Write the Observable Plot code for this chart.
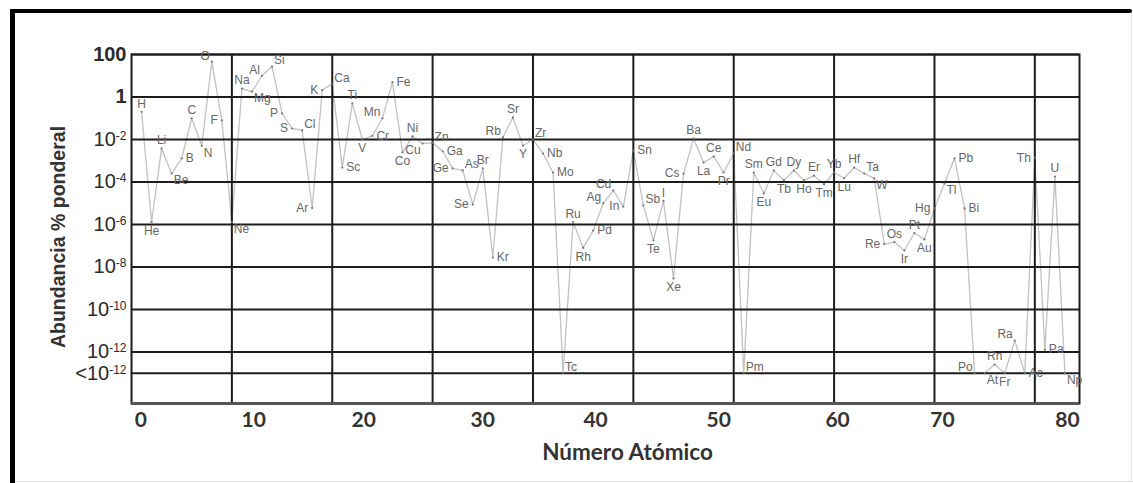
<!DOCTYPE html>
<html><head><meta charset="utf-8">
<script src="https://cdn.jsdelivr.net/npm/d3@7"></script>
<script src="https://cdn.jsdelivr.net/npm/@observablehq/plot@0.6"></script>
<style>
body{margin:0;background:#fff;}
#wrap{position:relative;width:1133px;height:483px;overflow:hidden;background:#fff;}
#chart{position:absolute;left:0;top:0;}
.bar{position:absolute;background:#000;}
</style></head><body>
<div id="wrap">
  <div id="chart"></div>
  <div class="bar" style="left:10px;top:9px;width:1122px;height:4px;border-radius:0 2px 2px 0"></div>
  <div class="bar" style="left:10px;top:9px;width:5px;height:474px"></div>
  <div style="position:absolute;left:15px;top:481px;width:1118px;height:1px;background:#e2e2e2"></div>
  <div style="position:absolute;left:1131px;top:13px;width:1px;height:468px;background:#e6e6e6"></div>
</div>
<script>
// ---- data ----
const symbols = ["H","He","Li","Be","B","C","N","O","F","Ne","Na","Mg","Al","Si","P","S","Cl","Ar","K","Ca",
  "Sc","Ti","V","Cr","Mn","Fe","Co","Ni","Cu","Zn","Ga","Ge","As","Se","Br","Kr","Rb","Sr","Y","Zr",
  "Nb","Mo","Tc","Ru","Rh","Pd","Ag","Cd","In","Sn","Sb","Te","I","Xe","Cs","Ba","La","Ce","Pr","Nd",
  "Pm","Sm","Eu","Gd","Tb","Dy","Ho","Er","Tm","Yb","Lu","Hf","Ta","W","Re","Os","Ir","Pt","Au","Hg",
  "Tl","Pb","Bi","Po","At","Rn","Fr","Ra","Ac","Th","Pa","U","Np"];
const atomicNumbers = [1,2,3,4,5,6,7,8,9,10,11,12,13,14,15,16,17,18,19,20,
  21,22,23,24,25,26,27,28,29,30,31,32,33,34,35,36,37,38,39,40,
  41,42,43,44,45,46,47,48,49,50,51,52,53,54,55,56,57,58,59,60,
  61,62,63,64,65,66,67,68,69,70,71,72,73,74,75,76,77,78,79,80,
  81,82,83,84,85,86,87,88,89,90,91,92,93];
// abundance, weight % (values below 1e-12 plotted at the "<10^-12" level, 1e-13)
const abundance = [0.2,1.3e-6,3.8e-3,2.5e-4,1.3e-3,0.1,5e-3,46,0.08,1.3e-6,2.5,1.8,10,27,0.17,0.033,0.027,6e-6,2.1,4.2,
  4.8e-4,0.5,0.01,0.015,0.1,5,2.5e-3,0.014,6.5e-3,7e-3,2.8e-3,4.4e-4,3.5e-4,8.7e-6,4.4e-4,2.8e-8,0.0125,0.11,5.2e-3,0.01,
  2.2e-3,2.8e-4,1e-13,1.3e-6,8e-8,5.2e-7,1e-5,4e-5,7e-6,3e-3,8e-6,1.8e-7,1.3e-5,2.9e-9,2.5e-4,0.011,8.3e-4,1.6e-3,2.8e-4,2.2e-3,
  1e-13,2.8e-4,2.9e-5,3.5e-4,1.2e-4,3.5e-4,1.2e-4,2e-4,7.8e-5,2.8e-4,1.5e-4,4.8e-4,2.5e-4,1.5e-4,1.2e-7,1.5e-7,6e-8,4e-7,2e-7,5.7e-6,
  8.5e-5,1.3e-3,5.7e-6,1e-13,1e-13,2.6e-13,1e-13,3.5e-12,1e-13,1.4e-3,1.3e-12,1.8e-4,1e-13];
// label placement relative to each point (compass direction)
const labelPos = ["N","S","N","SE","E","N","SE","NW","W","SE","N","SE","NW","NE","W","W","NE","W","W","NE",
  "E","N","S","E","NW","E","S","N","SW","NE","E","W","NE","W","N","E","NW","N","S","NE",
  "E","E","NE","N","S","E","NW","NW","W","E","NE","S","N","S","W","N","S","N","S","NE",
  "NE","N","S","N","S","N","S","N","S","N","S","N","NE","SE","W","N","S","N","S","W",
  "SE","E","E","NW","SE","N","S","NW","E","W","E","N","SE"];

const yTickValues = [100, 1, 1e-2, 1e-4, 1e-6, 1e-8, 1e-10, 1e-12, 1e-13];
const yTickLabels = ["100", "1", "10^-2", "10^-4", "10^-6", "10^-8", "10^-10", "10^-12", "<10^-12"];
const xGridZ = [10, 20, 30, 40, 50, 60, 70, 80, 90];
const xTickZ = [0.93, 12.18, 23.14, 34.99, 46.24, 58.5, 70.35, 80.8, 93.26];
const xTickLabels = ["0", "10", "20", "30", "40", "50", "60", "70", "80"];
const xTitle = "Número Atómico";
const yTitle = "Abundancia % ponderal";

// ---- chart ----
const data = symbols.map((s, i) => ({sym: s, z: atomicNumbers[i], v: abundance[i], pos: labelPos[i]}));
const yMin = Math.pow(10, -14.42);
const yLabelMap = new Map(yTickValues.map((v, i) => [v, yTickLabels[i]]));
const xLabelMap = new Map(xTickZ.map((v, i) => [v, xTickLabels[i]]));

const offsets = {
  N: {dx: 0, dy: -8, anchor: "middle"},
  S: {dx: 0, dy: 9, anchor: "middle"},
  E: {dx: 4, dy: 0, anchor: "start"},
  W: {dx: -4, dy: 0, anchor: "end"},
  NE: {dx: 2, dy: -6, anchor: "start"},
  NW: {dx: -2, dy: -6, anchor: "end"},
  SE: {dx: 2, dy: 7, anchor: "start"},
  SW: {dx: -2, dy: 7, anchor: "end"}
};
const labelMarks = Object.entries(offsets).map(([k, o]) =>
  Plot.text(data.filter(d => d.pos === k), {
    x: "z", y: "v", text: "sym", dx: o.dx, dy: o.dy, textAnchor: o.anchor,
    fontSize: 12, fill: "#666"
  }));

const gridColor = "#1c1c1c";
const svg = Plot.plot({
  width: 1133, height: 483,
  marginLeft: 131, marginRight: 54, marginTop: 54, marginBottom: 80,
  style: {fontFamily: "'Liberation Sans', Arial, sans-serif", background: "transparent", overflow: "visible"},
  x: {domain: [0, 94.45]},
  y: {type: "log", domain: [yMin, 100]},
  marks: [
    Plot.line(data, {x: "z", y: "v", stroke: "#c2c2c2", strokeWidth: 1.3}),
    Plot.ruleY(yTickValues, {stroke: gridColor, strokeWidth: 2}),
    Plot.ruleX(xGridZ, {stroke: gridColor, strokeWidth: 2}),
    Plot.frame({stroke: gridColor, strokeWidth: 2}),
    Plot.ruleY([yMin], {stroke: "#555", strokeWidth: 3}),
    Plot.dot(data, {x: "z", y: "v", r: 1.1, fill: "#777"}),
    ...labelMarks,
    Plot.axisY(yTickValues, {tickSize: 0, tickPadding: 5, tickFormat: d => yLabelMap.get(d),
      fontSize: 20, fill: "#2a2a2a", label: null}),
    Plot.axisX(xTickZ, {tickSize: 0, tickPadding: 9, tickFormat: d => xLabelMap.get(d),
      fontSize: 21, fontWeight: "bold", fontFamily: "Lato", fill: "#333", label: null}),
    Plot.text([xTitle], {text: d => d, frameAnchor: "bottom", lineAnchor: "middle", textAnchor: "middle",
      dx: 22, dy: 49, fontSize: 22.5, fontWeight: "bold", fontFamily: "Lato", fill: "#333"}),
    Plot.text([yTitle], {text: d => d, frameAnchor: "left", rotate: -90, textAnchor: "middle", lineAnchor: "middle",
      dx: -73, dy: 8, fontSize: 19.5, fontWeight: "bold", fill: "#333"})
  ]
});

// superscripts on the y tick labels
d3.select(svg).selectAll('g[aria-label="y-axis tick label"] text').each(function() {
  const t = this.textContent;
  const sel = d3.select(this);
  if (t === "100" || t === "1") sel.attr("font-weight", "bold");
  if (t.includes("^")) {
    const [base, exp] = t.split("^");
    sel.text(null);
    sel.append("tspan").text(base);
    sel.append("tspan").attr("dy", "-0.5em").attr("font-size", "0.6em").text(exp);
  }
});

document.getElementById("chart").appendChild(svg);
</script>
</body></html>
